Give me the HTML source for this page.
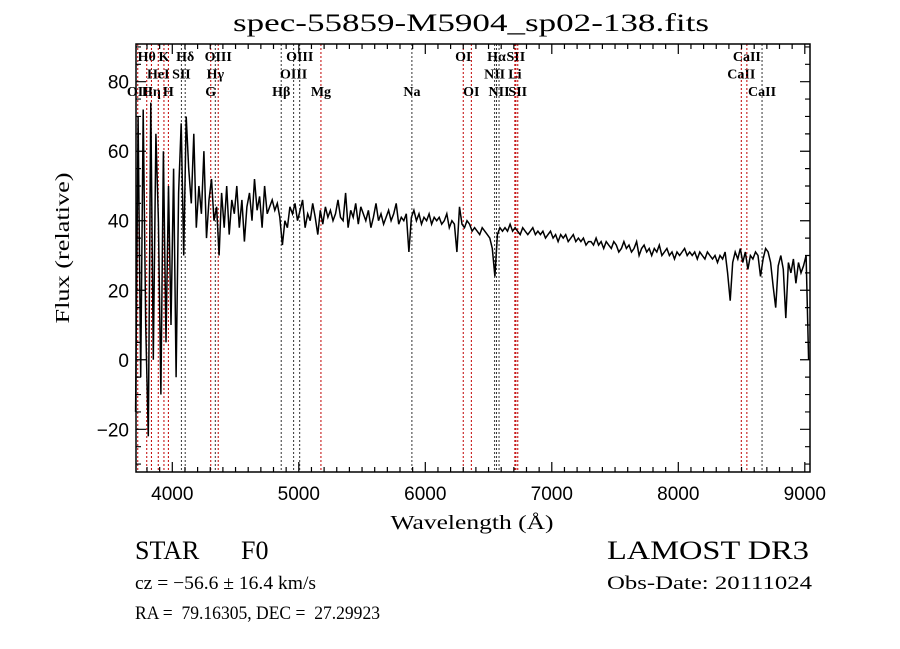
<!DOCTYPE html>
<html><head><meta charset="utf-8"><style>
html,body{margin:0;padding:0;background:#fff;}
svg{display:block;}
text{white-space:pre;}
</style></head><body>
<svg id="chart" width="900" height="649" viewBox="0 0 900 649" xmlns="http://www.w3.org/2000/svg" xml:space="preserve">
<rect width="900" height="649" fill="#fff"/>
<text x="471" y="31" text-anchor="middle" font-family="Liberation Serif, serif" font-size="25" textLength="476" lengthAdjust="spacingAndGlyphs">spec-55859-M5904_sp02-138.fits</text>
<g id="lines"></g>
<g id="spec"></g>
<g id="axes"></g>
<text x="472" y="529" text-anchor="middle" font-family="Liberation Serif, serif" font-size="20" textLength="163" lengthAdjust="spacingAndGlyphs">Wavelength (Å)</text>
<text transform="translate(69,248) rotate(-90)" text-anchor="middle" font-family="Liberation Serif, serif" font-size="20" textLength="151" lengthAdjust="spacingAndGlyphs">Flux (relative)</text>
<text x="135" y="559" font-family="Liberation Serif, serif" font-size="26">STAR</text>
<text x="241" y="559" font-family="Liberation Serif, serif" font-size="26">F0</text>
<text x="607" y="559" font-family="Liberation Serif, serif" font-size="26" textLength="202" lengthAdjust="spacingAndGlyphs">LAMOST DR3</text>
<text x="135" y="589" font-family="Liberation Serif, serif" font-size="19" textLength="181" lengthAdjust="spacingAndGlyphs">cz = −56.6 ± 16.4 km/s</text>
<text x="607" y="589" font-family="Liberation Serif, serif" font-size="19" textLength="205" lengthAdjust="spacingAndGlyphs">Obs-Date: 20111024</text>
<text x="135" y="619" font-family="Liberation Serif, serif" font-size="19" textLength="245" lengthAdjust="spacingAndGlyphs">RA =  79.16305, DEC =  27.29923</text>
</svg>
<script>
const waveStart = 3710;
const waveStep = 20;
const flux = [
-15,70,-5,72,10,-22,74,0,65,40,-10,60,5,50,10,55,-5,48,68,30,
70,55,45,65,38,50,42,60,35,46,52,40,44,30,48,38,50,36,46,42,
50,38,46,34,44,48,40,52,43,47,38,50,42,44,46,43,45,41,33,40,
38,44,42,45,40,43,46,38,42,40,45,41,36,43,39,44,41,43,40,42,
46,41,40,48,38,43,41,45,39,44,42,40,43,38,41,45,40,42,39,41,
43,40,42,45,39,41,40,42,31,41,43,40,42,39,41,40,42,39,41,40,
41,39,40,42,38,40,39,31,44,39,38,40,39,37,38,37,36,38,37,36,
35,32,24,36,38,37,38,37,39,37,38,37,36,38,37,36,37,38,36,37,
36,37,35,36,37,35,36,34,36,35,36,34,35,36,34,35,34,35,33,34,
34,33,35,33,34,32,34,33,32,34,33,31,32,34,32,33,31,32,34,30,
32,33,31,32,30,32,31,33,30,31,32,30,31,29,31,30,31,32,30,31,
30,31,29,31,30,29,31,30,29,30,28,30,29,31,25,17,28,31,29,32,
28,31,26,30,29,31,30,24,29,32,31,28,21,15,27,30,26,12,28,25,
29,22,28,25,27,30,0];
const lineWaves = [3727,3798,3835,3889,3934,3969,4072,4102,4304,4340,4363,4861,4959,5007,5175,5894,6300,6364,6548,6563,6583,6708,6716,6731,8498,8542,8662];
const lineLabels = ["OII","Hθ","Hη","HeI","K","H","SII","Hδ","G","Hγ","OIII","Hβ","OIII","OIII","Mg","Na","OI","OI","NII","Hα","NII","Li","SII","SII","CaII","CaII","CaII"];
const lineRows = [2,0,2,1,0,2,1,0,2,1,0,2,1,0,2,2,0,2,1,0,2,1,0,2,1,0,2];
const lineRed = [1,1,1,1,1,1,0,0,1,0,1,0,0,0,1,0,1,1,0,0,0,1,1,1,1,1,0];
const xTicks = [4000,5000,6000,7000,8000,9000];
const yTicks = [-20,0,20,40,60,80];

const L=136,R=810,T=44,B=472;
const xs = w => 172.3 + (w-4000)*0.1265;
const ys = f => 429.3 - (f+20)*3.476;
const NS="http://www.w3.org/2000/svg";
function mk(tag,parent){const e=document.createElementNS(NS,tag);parent.appendChild(e);return e;}

const gl=document.getElementById('lines');
lineWaves.forEach((w,i)=>{
  const x=xs(w);
  const ln=mk('line',gl);
  
  
  ln.setAttribute('x1',x);ln.setAttribute('x2',x);ln.setAttribute('y1',T);ln.setAttribute('y2',B);
  ln.setAttribute('stroke',lineRed[i]?'#c00000':'#333');ln.setAttribute('stroke-width','1');ln.setAttribute('stroke-dasharray','2,2');
  const t=mk('text',gl);
  
  
  t.setAttribute('x',x);t.setAttribute('y',61+lineRows[i]*17.5);
  t.setAttribute('text-anchor','middle');t.setAttribute('font-family','Liberation Serif, serif');t.setAttribute('font-size','14');t.setAttribute('font-weight','bold');
  t.textContent=lineLabels[i];
});

const gs=document.getElementById('spec');
let d='';
flux.forEach((f,i)=>{const x=xs(waveStart+i*waveStep);const y=Math.max(T,Math.min(B,ys(f)));d+=(i?'L':'M')+x.toFixed(1)+','+y.toFixed(1);});
const p=mk('path',gs);


p.setAttribute('d',d);p.setAttribute('fill','none');p.setAttribute('stroke','#000');p.setAttribute('stroke-width','1.5');

const ga=document.getElementById('axes');
const fr=mk('rect',ga);


fr.setAttribute('x',L);fr.setAttribute('y',T);fr.setAttribute('width',R-L);fr.setAttribute('height',B-T);
fr.setAttribute('fill','none');fr.setAttribute('stroke','#000');fr.setAttribute('stroke-width','1.5');
let td='';
for(let w=3800;w<=9000;w+=100){const x=xs(w);if(x<L||x>R)continue;const len=(w%1000===0)?10:5;td+=`M${x},${B}v${-len}M${x},${T}v${len}`;}
for(let f=-30;f<=90;f+=5){const y=ys(f);if(y<T||y>B)continue;const len=(f%20===0)?10:5;td+=`M${L},${y}h${len}M${R},${y}h${-len}`;}
const tk=mk('path',ga);


tk.setAttribute('d',td);tk.setAttribute('stroke','#000');tk.setAttribute('stroke-width','1.2');
xTicks.forEach(w=>{const t=mk('text',ga);
  
  
  t.setAttribute('x',xs(w));t.setAttribute('y',500);t.setAttribute('text-anchor','middle');
  t.setAttribute('font-family','Liberation Sans, sans-serif');t.setAttribute('font-size','19');t.textContent=w;});
yTicks.forEach(f=>{const t=mk('text',ga);
  
  
  t.setAttribute('x',129);t.setAttribute('y',ys(f)+7);t.setAttribute('text-anchor','end');
  t.setAttribute('font-family','Liberation Sans, sans-serif');t.setAttribute('font-size','19');t.textContent=f<0?'−'+(-f):f;});
</script>
</body></html>
